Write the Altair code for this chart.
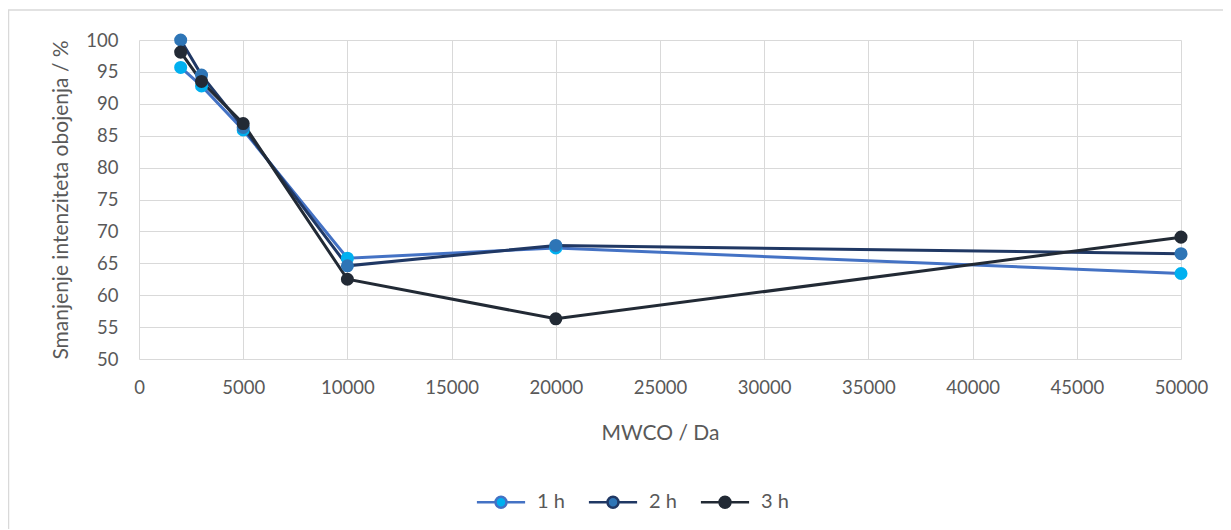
import altair as alt
import pandas as pd

mwco = [2000, 3000, 5000, 10000, 20000, 50000]
series_names = ["1 h", "2 h", "3 h"]
h1 = [95.7, 92.8, 85.9, 65.8, 67.4, 63.4]
h2 = [100.0, 94.5, 86.3, 64.6, 67.8, 66.5]
h3 = [98.1, 93.5, 86.9, 62.5, 56.3, 69.1]

line_colors = ["#4472C4", "#203864", "#222A35"]
marker_colors = ["#00B0F0", "#2E75B6", "#222A35"]

rows = []
for name, vals in zip(series_names, [h1, h2, h3]):
    for x, y in zip(mwco, vals):
        rows.append({"MWCO": x, "value": y, "series": name})
df = pd.DataFrame(rows)

FONT = "Lato"
GRAY = "#595959"

legend_path = "M-1,0A1,1 0 1,1 1,0A1,1 0 1,1 -1,0Z M-4.4,0H-1 M1,0H4.4"

x_enc = alt.X("MWCO:Q",
              scale=alt.Scale(domain=[0, 50000], nice=False),
              axis=alt.Axis(values=list(range(0, 50001, 5000)), title="MWCO / Da",
                            format="d", grid=True, gridColor="#D9D9D9", domain=False,
                            ticks=False, labelPadding=19, titlePadding=26, labelFlush=False))
y_enc = alt.Y("value:Q",
              scale=alt.Scale(domain=[50, 100], nice=False, zero=False),
              axis=alt.Axis(values=list(range(50, 101, 5)),
                            title="Smanjenje intenziteta obojenja / %",
                            grid=True, gridColor="#D9D9D9", domain=False, ticks=False,
                            labelPadding=21, titlePadding=14, labelFlush=False))

stroke_scale = alt.Scale(domain=series_names, range=line_colors)
fill_scale = alt.Scale(domain=series_names, range=marker_colors)

legend = alt.Legend(title=None, orient="none", direction="horizontal",
                    legendX=352, legendY=452,
                    symbolType=legend_path, symbolSize=120, symbolStrokeWidth=2.5,
                    labelOffset=26, columnPadding=18, symbolOffset=0,
                    labelFont=FONT, labelFontSize=20, labelColor=GRAY)

frame = alt.Chart(pd.DataFrame({"k": [0]})).mark_rect(
    fill=None, stroke="#D9D9D9", strokeWidth=1.5, clip=False
).encode(x=alt.value(-130.5), x2=alt.value(1110), y=alt.value(-30), y2=alt.value(520))

lines = alt.Chart(df).mark_line(strokeWidth=3).encode(
    x=x_enc, y=y_enc,
    stroke=alt.Stroke("series:N", scale=stroke_scale, legend=legend),
    detail="series:N",
)

points = alt.Chart(df).mark_point(filled=True, size=170, opacity=1, strokeWidth=0).encode(
    x=x_enc, y=y_enc,
    fill=alt.Fill("series:N", scale=fill_scale, legend=legend),
    stroke=alt.Stroke("series:N", scale=stroke_scale, legend=legend),
    order=alt.Order("series:N"),
)

chart = alt.layer(frame, lines, points).properties(
    width=1042, height=319,
    autosize=alt.AutoSizeParams(type="none"),
    padding={"left": 131, "top": 32, "right": 42, "bottom": 170},
    background="white",
).configure_view(stroke=None).configure_axis(
    labelFont=FONT, labelFontSize=18.5, labelColor=GRAY,
    titleFont=FONT, titleFontSize=21, titleColor=GRAY, titleFontWeight="normal",
).configure_legend(
    labelFont=FONT, labelFontSize=20, labelColor=GRAY,
)

chart.save("out.html", embed_options={"renderer": "svg", "actions": False})
